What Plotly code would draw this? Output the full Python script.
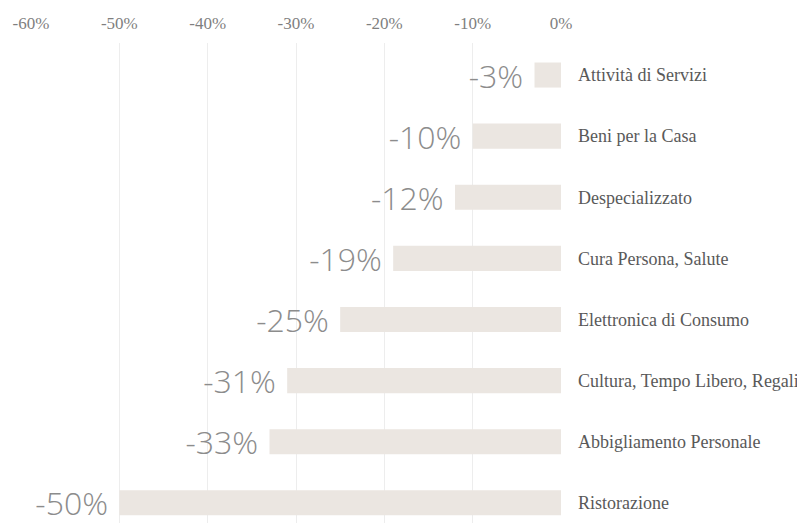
import plotly.graph_objects as go

categories = ["Attività di Servizi", "Beni per la Casa", "Despecializzato",
              "Cura Persona, Salute", "Elettronica di Consumo",
              "Cultura, Tempo Libero, Regali", "Abbigliamento Personale", "Ristorazione"]
values = [-3, -10, -12, -19, -25, -31, -33, -50]
value_labels = ["-3%", "-10%", "-12%", "-19%", "-25%", "-31%", "-33%", "-50%"]
tick_vals = [-60, -50, -40, -30, -20, -10, 0]
tick_text = ["-60%", "-50%", "-40%", "-30%", "-20%", "-10%", "0%"]

serif = "'Liberation Serif', 'DejaVu Serif', serif"

fig = go.Figure(go.Bar(
    x=values, y=list(range(len(categories))), orientation="h",
    marker=dict(color="#EBE6E1", line=dict(width=0)),
    width=0.41,
    text=[t + "\u00a0" for t in value_labels],
    texttemplate="%{text}",
    textposition="outside",
    constraintext="none",
    cliponaxis=False,
    hoverinfo="skip",
    textfont=dict(family="Open Sans", size=32, color="#8C8C8C", weight=300),
))

fig.update_layout(
    width=805, height=523,
    margin=dict(l=23, r=252, t=35, b=8, autoexpand=False),
    paper_bgcolor="white", plot_bgcolor="white",
    showlegend=False,
    xaxis=dict(side="top", range=[-60, 0], tickvals=tick_vals, ticktext=tick_text,
               showgrid=True, gridcolor="#EDEDED", gridwidth=1, zeroline=False,
               showline=False, ticks="", automargin=False, ticklabelstandoff=10,
               tickfont=dict(family=serif, size=17, color="#7F7F7F")),
    yaxis=dict(side="right", range=[7.33, -0.524], automargin=False,
               tickvals=list(range(len(categories))), ticktext=categories,
               showgrid=False, zeroline=False, showline=False, ticks="",
               ticklabelstandoff=16,
               tickfont=dict(family=serif, size=18, color="#595959")),
)

fig.write_html("out.html")
